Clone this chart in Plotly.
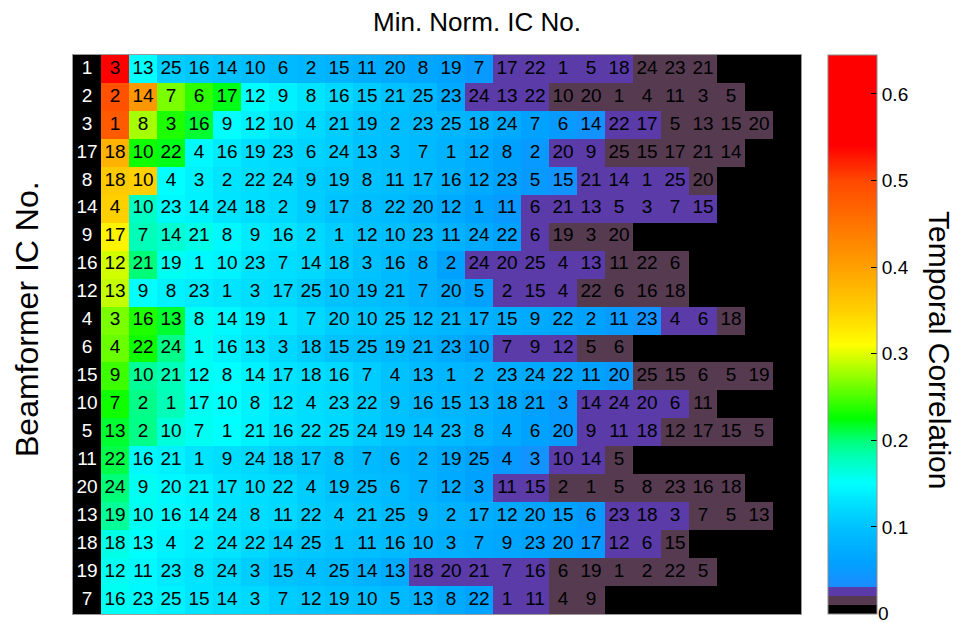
import plotly.graph_objects as go

# ---------------- data ----------------
beamformer_ic = [1, 2, 3, 17, 8, 14, 9, 16, 12, 4, 6, 15, 10, 5, 11, 20, 13, 18, 19, 7]

min_norm_ic = [
    [3, 13, 25, 16, 14, 10, 6, 2, 15, 11, 20, 8, 19, 7, 17, 22, 1, 5, 18, 24, 23, 21],
    [2, 14, 7, 6, 17, 12, 9, 8, 16, 15, 21, 25, 23, 24, 13, 22, 10, 20, 1, 4, 11, 3, 5],
    [1, 8, 3, 16, 9, 12, 10, 4, 21, 19, 2, 23, 25, 18, 24, 7, 6, 14, 22, 17, 5, 13, 15, 20],
    [18, 10, 22, 4, 16, 19, 23, 6, 24, 13, 3, 7, 1, 12, 8, 2, 20, 9, 25, 15, 17, 21, 14],
    [18, 10, 4, 3, 2, 22, 24, 9, 19, 8, 11, 17, 16, 12, 23, 5, 15, 21, 14, 1, 25, 20],
    [4, 10, 23, 14, 24, 18, 2, 9, 17, 8, 22, 20, 12, 1, 11, 6, 21, 13, 5, 3, 7, 15],
    [17, 7, 14, 21, 8, 9, 16, 2, 1, 12, 10, 23, 11, 24, 22, 6, 19, 3, 20],
    [12, 21, 19, 1, 10, 23, 7, 14, 18, 3, 16, 8, 2, 24, 20, 25, 4, 13, 11, 22, 6],
    [13, 9, 8, 23, 1, 3, 17, 25, 10, 19, 21, 7, 20, 5, 2, 15, 4, 22, 6, 16, 18],
    [3, 16, 13, 8, 14, 19, 1, 7, 20, 10, 25, 12, 21, 17, 15, 9, 22, 2, 11, 23, 4, 6, 18],
    [4, 22, 24, 1, 16, 13, 3, 18, 15, 25, 19, 21, 23, 10, 7, 9, 12, 5, 6],
    [9, 10, 21, 12, 8, 14, 17, 18, 16, 7, 4, 13, 1, 2, 23, 24, 22, 11, 20, 25, 15, 6, 5, 19],
    [7, 2, 1, 17, 10, 8, 12, 4, 23, 22, 9, 16, 15, 13, 18, 21, 3, 14, 24, 20, 6, 11],
    [13, 2, 10, 7, 1, 21, 16, 22, 25, 24, 19, 14, 23, 8, 4, 6, 20, 9, 11, 18, 12, 17, 15, 5],
    [22, 16, 21, 1, 9, 24, 18, 17, 8, 7, 6, 2, 19, 25, 4, 3, 10, 14, 5],
    [24, 9, 20, 21, 17, 10, 22, 4, 19, 25, 6, 7, 12, 3, 11, 15, 2, 1, 5, 8, 23, 16, 18],
    [19, 10, 16, 14, 24, 8, 11, 22, 4, 21, 25, 9, 2, 17, 12, 20, 15, 6, 23, 18, 3, 7, 5, 13],
    [18, 13, 4, 2, 24, 22, 14, 25, 1, 11, 16, 10, 3, 7, 9, 23, 20, 17, 12, 6, 15],
    [12, 11, 23, 8, 24, 3, 15, 4, 25, 14, 13, 18, 20, 21, 7, 16, 6, 19, 1, 2, 22, 5],
    [16, 23, 25, 15, 14, 3, 7, 12, 19, 10, 5, 13, 8, 22, 1, 11, 4, 9],
]

temporal_corr = [
    [0.62, 0.15, 0.11, 0.105, 0.10, 0.095, 0.09, 0.085, 0.08, 0.075, 0.07, 0.065, 0.06, 0.05,
     0.025, 0.025, 0.025, 0.025, 0.025, 0.015, 0.015, 0.015],
    [0.49, 0.41, 0.265, 0.24, 0.22, 0.15, 0.14, 0.13, 0.12, 0.11, 0.10, 0.09, 0.07,
     0.025, 0.025, 0.025, 0.015, 0.015, 0.015, 0.015, 0.015, 0.015, 0.015],
    [0.48, 0.28, 0.235, 0.215, 0.15, 0.14, 0.13, 0.12, 0.11, 0.10, 0.095, 0.09, 0.085, 0.08, 0.07, 0.06, 0.05, 0.04,
     0.025, 0.025, 0.015, 0.015, 0.015, 0.015],
    [0.38, 0.23, 0.22, 0.145, 0.135, 0.125, 0.12, 0.115, 0.11, 0.10, 0.095, 0.09, 0.08, 0.07, 0.06, 0.05,
     0.025, 0.025, 0.015, 0.015, 0.015, 0.015, 0.015],
    [0.355, 0.35, 0.15, 0.14, 0.13, 0.125, 0.12, 0.11, 0.105, 0.10, 0.095, 0.09, 0.08, 0.07, 0.06, 0.05, 0.04,
     0.025, 0.025, 0.025, 0.025, 0.015],
    [0.35, 0.175, 0.145, 0.14, 0.13, 0.125, 0.12, 0.11, 0.10, 0.095, 0.09, 0.08, 0.07, 0.06, 0.05,
     0.025, 0.025, 0.025, 0.025, 0.025, 0.025, 0.025],
    [0.32, 0.18, 0.17, 0.16, 0.145, 0.135, 0.13, 0.12, 0.11, 0.10, 0.095, 0.09, 0.08, 0.07, 0.06,
     0.025, 0.015, 0.015, 0.015],
    [0.295, 0.20, 0.155, 0.145, 0.14, 0.13, 0.125, 0.12, 0.11, 0.10, 0.09, 0.08, 0.06,
     0.025, 0.025, 0.025, 0.025, 0.025, 0.015, 0.015, 0.015],
    [0.29, 0.15, 0.14, 0.135, 0.13, 0.125, 0.12, 0.11, 0.10, 0.095, 0.09, 0.08, 0.07, 0.06,
     0.025, 0.025, 0.025, 0.015, 0.015, 0.015, 0.015],
    [0.265, 0.235, 0.215, 0.155, 0.145, 0.135, 0.13, 0.12, 0.11, 0.105, 0.10, 0.09, 0.085, 0.08, 0.075, 0.07,
     0.065, 0.06, 0.05, 0.04, 0.025, 0.025, 0.015],
    [0.26, 0.23, 0.195, 0.155, 0.14, 0.13, 0.12, 0.11, 0.10, 0.095, 0.09, 0.08, 0.07, 0.06,
     0.025, 0.025, 0.025, 0.015, 0.015],
    [0.245, 0.19, 0.18, 0.155, 0.15, 0.14, 0.13, 0.125, 0.12, 0.11, 0.10, 0.09, 0.085, 0.08, 0.075, 0.07,
     0.065, 0.06, 0.05, 0.015, 0.015, 0.015, 0.015, 0.015],
    [0.23, 0.195, 0.18, 0.155, 0.15, 0.14, 0.13, 0.125, 0.12, 0.11, 0.10, 0.09, 0.085, 0.08, 0.07, 0.06, 0.05,
     0.025, 0.025, 0.025, 0.025, 0.015],
    [0.215, 0.195, 0.165, 0.155, 0.15, 0.14, 0.13, 0.125, 0.12, 0.11, 0.10, 0.095, 0.09, 0.08, 0.07, 0.06, 0.05,
     0.025, 0.025, 0.025, 0.015, 0.015, 0.015, 0.015],
    [0.21, 0.145, 0.14, 0.13, 0.125, 0.12, 0.11, 0.105, 0.10, 0.09, 0.085, 0.08, 0.07, 0.06, 0.05, 0.04,
     0.025, 0.025, 0.015],
    [0.20, 0.155, 0.145, 0.14, 0.13, 0.125, 0.12, 0.11, 0.10, 0.095, 0.09, 0.08, 0.07, 0.06,
     0.025, 0.025, 0.015, 0.015, 0.015, 0.015, 0.015, 0.015, 0.015],
    [0.19, 0.155, 0.145, 0.14, 0.13, 0.125, 0.12, 0.11, 0.105, 0.10, 0.09, 0.085, 0.08, 0.075, 0.07, 0.065,
     0.06, 0.05, 0.025, 0.025, 0.025, 0.015, 0.015, 0.015],
    [0.16, 0.15, 0.14, 0.135, 0.13, 0.12, 0.11, 0.105, 0.10, 0.095, 0.09, 0.08, 0.075, 0.07, 0.065, 0.06,
     0.055, 0.05, 0.025, 0.025, 0.015],
    [0.155, 0.145, 0.135, 0.13, 0.12, 0.11, 0.10, 0.095, 0.09, 0.08, 0.07,
     0.025, 0.025, 0.025, 0.025, 0.025, 0.015, 0.015, 0.015, 0.015, 0.015, 0.015],
    [0.155, 0.145, 0.14, 0.13, 0.125, 0.12, 0.11, 0.105, 0.10, 0.095, 0.09, 0.08, 0.07, 0.06,
     0.025, 0.025, 0.015, 0.015],
]

n_cols = 25
zmin = -0.0005
zmax = 0.645
cbar_ticks = [0, 0.1, 0.2, 0.3, 0.4, 0.5, 0.6]

# colormap stops (value, colour)
cmap_stops = [
    (zmin, "#000000"), (0.0099, "#000000"),
    (0.0100, "#553a50"), (0.0199, "#553a50"),
    (0.0200, "#5a3ba8"), (0.0309, "#5a3ba8"),
    (0.0310, "#1a8cff"), (0.060, "#00a2ff"), (0.100, "#00c2ff"),
    (0.130, "#00e4ff"), (0.150, "#00ffff"), (0.180, "#00ffb8"),
    (0.200, "#00ff78"), (0.225, "#00ff00"), (0.270, "#88ff00"),
    (0.310, "#ffff00"), (0.350, "#ffd000"), (0.400, "#ffa000"),
    (0.450, "#ff7400"), (0.500, "#ff4800"), (0.540, "#ff0000"),
    (zmax, "#ff0000"),
]
colorscale = [[(v - zmin) / (zmax - zmin), c] for v, c in cmap_stops]

# ---------------- build matrices ----------------
z = []
tx, ty, tt = [], [], []
for r, (ics, cs) in enumerate(zip(min_norm_ic, temporal_corr)):
    z.append(list(cs) + [0.0] * (n_cols - len(cs)))
    for c, ic in enumerate(ics):
        tx.append(c + 1)
        ty.append(r)
        tt.append(str(ic))

rows = list(range(len(beamformer_ic)))
FONT = "Liberation Sans, Arial, Helvetica, sans-serif"

fig = go.Figure()

# label column (black)
fig.add_trace(go.Heatmap(
    x=[0], y=rows, z=[[0] for _ in rows],
    colorscale=[[0, "black"], [1, "black"]], showscale=False, hoverinfo="skip",
))

# data cells
fig.add_trace(go.Heatmap(
    x=list(range(1, n_cols + 1)), y=rows, z=z,
    colorscale=colorscale, zmin=zmin, zmax=zmax, hoverinfo="skip",
    colorbar=dict(
        x=1.0371, xanchor="left", xpad=0, y=0.5, yanchor="middle",
        len=1.0, lenmode="fraction", ypad=0,
        thickness=49, thicknessmode="pixels",
        outlinecolor="#8c8c8c", outlinewidth=1,
        tickmode="array", tickvals=cbar_ticks,
        ticktext=[("%g" % t) for t in cbar_ticks],
        ticks="inside", ticklen=6, tickcolor="black", tickwidth=1,
        tickfont=dict(size=19, family=FONT, color="black"),
    ),
))

# row labels (white)
fig.add_trace(go.Scatter(
    x=[0] * len(rows), y=rows, text=[str(b) for b in beamformer_ic],
    mode="text", textposition="middle center",
    textfont=dict(color="white", size=19, family=FONT),
    hoverinfo="skip", showlegend=False,
))

# cell numbers (black)
fig.add_trace(go.Scatter(
    x=tx, y=ty, text=tt, mode="text", textposition="middle center",
    textfont=dict(color="black", size=19, family=FONT),
    hoverinfo="skip", showlegend=False,
))

plot_w = 962 - 73 - 161
plot_h = 623 - 55 - 9
cb_left = 1.0371
shapes = []
for t in cbar_ticks[1:]:
    yy = (t - zmin) / (zmax - zmin)
    shapes.append(dict(type="line", xref="paper", yref="paper",
                       x0=cb_left, x1=cb_left + 6 / plot_w, y0=yy, y1=yy,
                       line=dict(color="black", width=1)))

fig.update_layout(
    width=962, height=623,
    margin=dict(l=73, r=161, t=55, b=9),
    paper_bgcolor="white", plot_bgcolor="black",
    font=dict(family=FONT, color="black"),
    shapes=shapes, showlegend=False,
    xaxis=dict(range=[-0.5, n_cols + 0.5], showgrid=False, zeroline=False,
               showticklabels=False, ticks="", showline=True, linecolor="#9a9a9a",
               linewidth=1, mirror=True, fixedrange=True),
    yaxis=dict(range=[len(rows) - 0.5, -0.5], showgrid=False, zeroline=False,
               showticklabels=False, ticks="", showline=True, linecolor="#9a9a9a",
               linewidth=1, mirror=True, fixedrange=True),
    annotations=[
        dict(text="Min. Norm. IC No.", xref="paper", yref="paper",
             x=(477 - 73) / plot_w, y=1 + (55 - 22) / plot_h, xanchor="center", yanchor="middle",
             showarrow=False, font=dict(size=26, family=FONT)),
        dict(text="Beamformer IC No.", xref="paper", yref="paper",
             x=(27 - 73) / plot_w, y=(614 - 319) / plot_h, xanchor="center", yanchor="middle",
             textangle=-90, showarrow=False, font=dict(size=32, family=FONT)),
        dict(text="Temporal Correlation", xref="paper", yref="paper",
             x=(940 - 73) / plot_w, y=(614 - 350) / plot_h, xanchor="center", yanchor="middle",
             textangle=90, showarrow=False, font=dict(size=30, family=FONT)),
        dict(text="0", xref="paper", yref="paper",
             x=(876 - 73) / plot_w, y=(0 - zmin) / (zmax - zmin), xanchor="left", yanchor="middle",
             showarrow=False, font=dict(size=19, family=FONT)),
    ],
)

fig.write_html("out.html")
